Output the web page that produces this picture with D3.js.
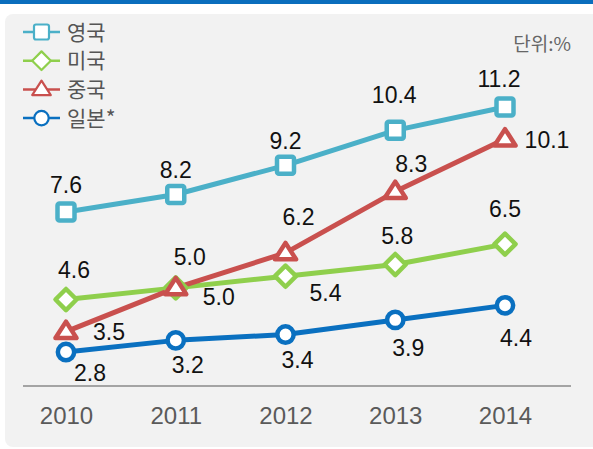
<!DOCTYPE html>
<html>
<head>
<meta charset="utf-8">
<script src="https://cdn.jsdelivr.net/npm/d3@7"></script>
<style>
  html, body { margin: 0; padding: 0; background: #fff; }
  svg { display: block; }
</style>
</head>
<body>
<svg id="chart" width="593" height="449"></svg>
<script>
// data
var years = ["2010", "2011", "2012", "2013", "2014"];
var seriesNames = ["영국", "미국", "중국", "일본*"];
var ukValues = [7.6, 8.2, 9.2, 10.4, 11.2];
var usValues = [4.6, 5.0, 5.4, 5.8, 6.5];
var cnValues = [3.5, 5.0, 6.2, 8.3, 10.1];
var jpValues = [2.8, 3.2, 3.4, 3.9, 4.4];
var unitLabel = "단위:%";

// label offsets from the marker (text baseline, centered)
var labelOffsets = [
    [[0, -19], [0, -17], [0, -16], [-1, -27], [-6, -20]],
    [[8, -22], [43, 17], [40, 25], [2, -21], [0, -27]],
    [[43, 8], [14, -23], [13, -28], [16, -20], [42, 9]],
    [[24, 29], [12, 33], [12, 33], [13, 36], [11, 41]]
];
var colors = ["#4bb0c8", "#8fcf4c", "#c9504e", "#0a70c0"];
var shapes = ["square", "diamond", "triangle", "circle"];

var series = [ukValues, usValues, cnValues, jpValues].map(function (vals, i) {
    return { name: seriesNames[i], values: vals, color: colors[i], shape: shapes[i], offsets: labelOffsets[i] };
});

var svg = d3.select("#chart");

/* ==========================================================================
 * Background
 * ========================================================================== */
svg.append("rect").attr("x", 0).attr("y", 0).attr("width", 593).attr("height", 4).attr("fill", "#0a6ebd");
svg.append("rect").attr("x", 5).attr("y", 14).attr("width", 600).attr("height", 433)
    .attr("rx", 8).attr("fill", "#f2f2f2");

/* ==========================================================================
 * Scales and axis
 * ========================================================================== */
var x = d3.scalePoint().domain(years).range([66, 505]);
var y = d3.scaleLinear().domain([0, 12]).range([433.7, 83.7]);

svg.append("line").attr("x1", 23).attr("x2", 571).attr("y1", 386).attr("y2", 386)
    .attr("stroke", "#8a8a8a").attr("stroke-width", 1.5);

var axis = svg.append("g").attr("transform", "translate(0,386)")
    .call(d3.axisBottom(x).tickSize(0));
axis.select(".domain").remove();
axis.selectAll("text")
    .attr("y", 38).attr("dy", 0)
    .attr("font-family", "'Liberation Sans', Arial, sans-serif")
    .attr("font-size", 24).attr("fill", "#5a5a5a");

/* ==========================================================================
 * Markers
 * ========================================================================== */
function drawMarker(g, shape, color, s, sw) {
    if (shape == "square") {
        g.append("rect").attr("x", -s / 2).attr("y", -s / 2).attr("width", s).attr("height", s)
            .attr("rx", 2).attr("fill", "#fff").attr("stroke", color).attr("stroke-width", sw);
    } else if (shape == "diamond") {
        var d = s * 0.62;
        g.append("path").attr("d", "M0," + (-d) + "L" + d + ",0L0," + d + "L" + (-d) + ",0Z")
            .attr("fill", "#fff").attr("stroke", color).attr("stroke-width", sw)
            .attr("stroke-linejoin", "round");
    } else if (shape == "triangle") {
        var h = s * 0.95, w = s * 0.62;
        g.append("path").attr("d", "M0," + (-h * 0.62) + "L" + w + "," + (h * 0.4) + "L" + (-w) + "," + (h * 0.4) + "Z")
            .attr("fill", "#fff").attr("stroke", color).attr("stroke-width", sw)
            .attr("stroke-linejoin", "round");
    } else {
        g.append("circle").attr("r", s * 0.48).attr("fill", "#fff")
            .attr("stroke", color).attr("stroke-width", sw);
    }
}

var line = d3.line()
    .x(function (d, i) { return x(years[i]); })
    .y(function (d) { return y(d); });

series.forEach(function (s) {
    svg.append("path").datum(s.values).attr("d", line)
        .attr("fill", "none").attr("stroke", s.color).attr("stroke-width", 5)
        .attr("stroke-linejoin", "round");
});

series.forEach(function (s) {
    s.values.forEach(function (v, i) {
        var g = svg.append("g").attr("transform", "translate(" + x(years[i]) + "," + y(v) + ")");
        drawMarker(g, s.shape, s.color, 17, 4.5);
    });
});

/* ==========================================================================
 * Value labels
 * ========================================================================== */
series.forEach(function (s) {
    s.values.forEach(function (v, i) {
        svg.append("text")
            .attr("x", x(years[i]) + s.offsets[i][0])
            .attr("y", y(v) + s.offsets[i][1])
            .attr("text-anchor", "middle")
            .attr("font-family", "'Liberation Sans', Arial, sans-serif")
            .attr("font-size", 23).attr("fill", "#111")
            .text(v.toFixed(1));
    });
});

/* ==========================================================================
 * Legend
 * ========================================================================== */
var legend = svg.append("g").attr("transform", "translate(23,32)");
series.forEach(function (s, i) {
    var row = legend.append("g").attr("transform", "translate(0," + (i * 28.7) + ")");
    row.append("line").attr("x1", 0).attr("x2", 37).attr("y1", 0).attr("y2", 0)
        .attr("stroke", s.color).attr("stroke-width", 2.5);
    var m = row.append("g").attr("transform", "translate(18.5,0)");
    drawMarker(m, s.shape, s.color, 15, 2.2);
    row.append("text").attr("x", 44).attr("y", 0).attr("dy", "0.36em")
        .attr("font-family", "'Noto Sans CJK KR', sans-serif")
        .attr("font-size", 21).attr("fill", "#555")
        .text(s.name);
});

svg.append("text").attr("x", 571).attr("y", 51).attr("text-anchor", "end")
    .attr("font-family", "'Noto Sans CJK KR', sans-serif")
    .attr("font-size", 19).attr("fill", "#666")
    .text(unitLabel);
</script>
</body>
</html>
